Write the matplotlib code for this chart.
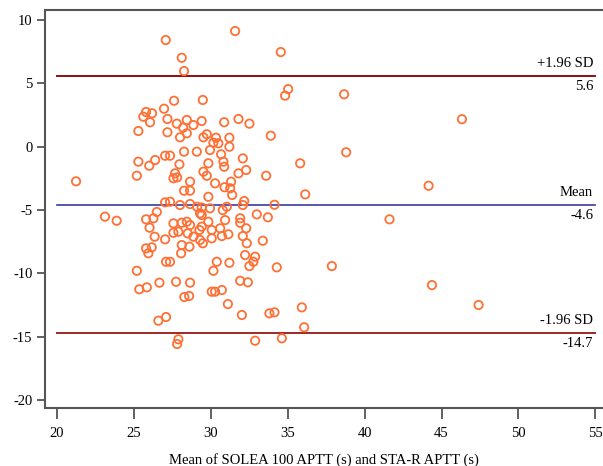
import matplotlib
matplotlib.use("Agg")
import matplotlib.pyplot as plt

plt.rcParams['font.family'] = ['Liberation Serif', 'DejaVu Serif']
plt.rcParams['axes.unicode_minus'] = False

# Mean of the two methods (s)
mean_x = [
    27.07, 31.58, 28.11, 28.26, 34.55, 35.03, 34.83, 38.67, 46.33, 27.61,
    29.48, 26.96, 25.79, 26.18, 25.61, 26.05, 27.18, 27.79, 28.44, 28.87,
    29.41, 30.87, 31.80, 32.51, 25.29, 27.18, 28.44, 28.00, 29.74, 29.52,
    30.34, 30.17, 30.49, 31.21, 31.21, 33.90, 29.95, 29.09, 28.26, 27.03,
    27.35, 30.67, 32.08, 38.80, 25.29, 26.38, 26.00, 27.96, 29.84, 30.82,
    30.87, 35.81, 25.19, 27.68, 27.57, 27.81, 29.52, 29.74, 31.80, 32.30,
    33.60, 28.65, 30.28, 31.32, 30.89, 31.26, 28.26, 28.65, 31.39, 29.84,
    36.14, 44.16, 21.24, 27.03, 27.35, 28.00, 28.65, 29.11, 29.41, 29.95,
    30.78, 31.04, 32.08, 32.17, 34.14, 29.30, 26.49, 23.12, 23.88, 25.79,
    26.27, 26.02, 26.35, 25.79, 26.16, 25.94, 27.03, 25.19, 27.09, 27.35,
    25.35, 25.84, 26.66, 27.74, 28.65, 26.59, 27.09, 28.28, 28.59, 27.89,
    27.81, 27.57, 27.89, 27.57, 28.11, 28.44, 28.65, 28.50, 28.87, 29.41,
    29.30, 29.48, 28.11, 28.61, 28.07, 29.84, 30.06, 30.06, 30.61, 30.72,
    30.93, 31.14, 31.91, 31.91, 32.30, 32.08, 32.34, 32.99, 33.71, 33.38,
    32.23, 32.88, 32.77, 32.51, 30.39, 31.21, 30.17, 34.29, 31.91, 32.41,
    30.06, 30.28, 30.72, 31.11, 32.02, 33.81, 34.14, 35.92, 36.07, 32.88,
    34.62, 41.62, 37.87, 44.38, 47.41, 29.26, 29.41, 28.20,
]
# Difference between the two methods (s)
diff_y = [
    8.42, 9.13, 7.02, 5.97, 7.47, 4.55, 4.03, 4.14, 2.17, 3.63,
    3.69, 3.00, 2.74, 2.64, 2.37, 1.93, 2.19, 1.82, 2.11, 1.71,
    2.03, 1.93, 2.19, 1.82, 1.24, 1.14, 1.06, 0.74, 0.98, 0.74,
    0.71, 0.32, 0.27, 0.71, 0.00, 0.87, -0.26, -0.39, -0.39, -0.71,
    -0.71, -0.60, -0.92, -0.44, -1.18, -1.05, -1.50, -1.39, -1.31, -1.18,
    -1.58, -1.31, -2.29, -2.10, -2.49, -2.42, -1.97, -2.29, -2.10, -1.84,
    -2.29, -2.76, -2.89, -2.76, -3.20, -3.28, -3.47, -3.47, -3.81, -3.95,
    -3.76, -3.08, -2.73, -4.39, -4.34, -4.60, -4.52, -4.74, -4.80, -4.86,
    -5.00, -4.74, -4.60, -4.29, -4.58, -5.26, -5.15, -5.52, -5.84, -5.73,
    -5.65, -6.39, -7.10, -8.02, -7.94, -8.41, -7.31, -9.79, -9.08, -9.08,
    -11.25, -11.10, -10.73, -10.66, -10.73, -13.73, -13.44, -11.86, -11.78, -15.20,
    -15.57, -6.05, -6.71, -6.79, -6.00, -5.92, -6.18, -6.84, -7.10, -6.31,
    -7.36, -7.62, -7.76, -7.89, -8.41, -5.92, -6.57, -7.23, -6.44, -7.05,
    -5.79, -6.91, -5.65, -6.00, -6.44, -7.05, -7.62, -5.34, -5.57, -7.42,
    -8.55, -8.68, -9.08, -9.42, -9.08, -9.16, -9.79, -9.52, -10.58, -10.70,
    -11.44, -11.44, -11.31, -12.42, -13.28, -13.15, -13.07, -12.68, -14.25, -15.31,
    -15.12, -5.73, -9.42, -10.92, -12.49, -6.57, -5.39, 1.50,
]

mean_diff = -4.6
upper_loa = 5.6
lower_loa = -14.7
line_labels = ["+1.96 SD", "Mean", "-1.96 SD"]
xticks = [20, 25, 30, 35, 40, 45, 50, 55]
yticks = [-20, -15, -10, -5, 0, 5, 10]
xlabel = "Mean of SOLEA 100 APTT (s) and STA-R APTT (s)"

fig = plt.figure(figsize=(6.03, 4.66), dpi=100)
ax = fig.add_axes([45/603, 1-408/466, 1-45/603, (408-10)/466])
ax.set_xlim(19.22, 55.5)
ax.set_ylim(-20.62, 10.79)

ax.scatter(mean_x, diff_y, s=36, facecolors='none', edgecolors='#FF7035',
           linewidths=1.3, zorder=3)

ax.plot([20, 55], [upper_loa, upper_loa], color='#8B1010', lw=1.4, zorder=2)
ax.plot([20, 55], [mean_diff, mean_diff], color='#3A3AA0', lw=1.2, zorder=2)
ax.plot([20, 55], [lower_loa, lower_loa], color='#A02828', lw=1.4, zorder=2)

fs = 10.5
for val, lab in zip([upper_loa, mean_diff, lower_loa], line_labels):
    ax.text(54.85, val + 0.45, lab, ha='right', va='bottom', fontsize=fs)
    ax.text(54.85, val - 0.35, f"{val:.1f}", ha='right', va='top', fontsize=fs)

ax.set_xticks(xticks)
ax.set_yticks(yticks)
ax.set_xticklabels([str(t) for t in xticks], fontsize=fs)
ax.set_yticklabels([str(t) for t in yticks], fontsize=fs)
ax.tick_params(axis='x', length=8, width=1.3, color='#555555', pad=6)
ax.tick_params(axis='y', length=6, width=1.3, color='#555555', pad=3)
ax.set_xlabel(xlabel, fontsize=fs, labelpad=9)

for side in ['left', 'bottom', 'top']:
    ax.spines[side].set_color('#555555')
    ax.spines[side].set_linewidth(1.5)
ax.spines['right'].set_visible(False)

fig.savefig("out.png", dpi=100)
